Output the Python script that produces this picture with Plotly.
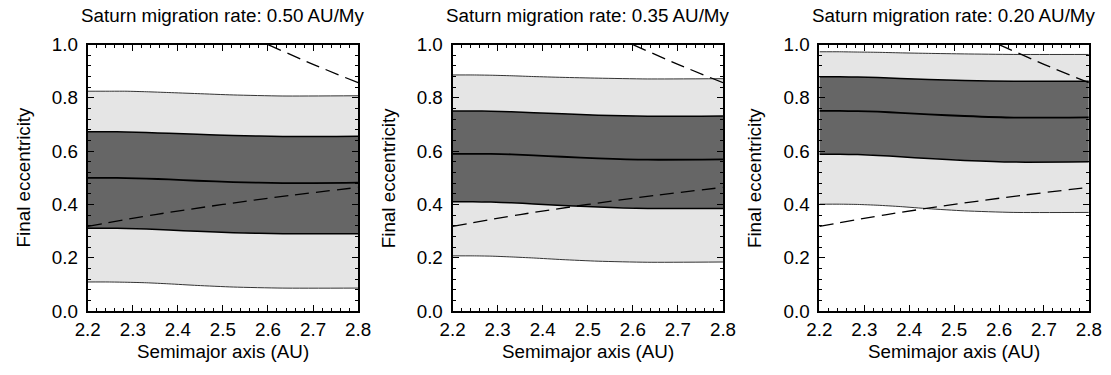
import plotly.graph_objects as go

# sample semimajor axes (AU)
a_samples = [2.2, 2.245, 2.285, 2.33, 2.38, 2.443, 2.523, 2.633, 2.8]

rates = ["0.50", "0.35", "0.20"]

# Panel 1: 0.50 AU/My
p1_outer_hi = [0.825, 0.825, 0.825, 0.823, 0.820, 0.816, 0.811, 0.807, 0.808]
p1_inner_hi = [0.673, 0.673, 0.672, 0.670, 0.667, 0.663, 0.659, 0.655, 0.656]
p1_median   = [0.500, 0.500, 0.499, 0.497, 0.494, 0.489, 0.484, 0.480, 0.482]
p1_inner_lo = [0.311, 0.311, 0.310, 0.308, 0.304, 0.299, 0.294, 0.290, 0.290]
p1_outer_lo = [0.109, 0.109, 0.108, 0.106, 0.102, 0.096, 0.090, 0.086, 0.086]

# Panel 2: 0.35 AU/My
p2_outer_hi = [0.886, 0.886, 0.885, 0.883, 0.880, 0.877, 0.874, 0.871, 0.872]
p2_inner_hi = [0.751, 0.751, 0.750, 0.748, 0.744, 0.740, 0.735, 0.731, 0.732]
p2_median   = [0.590, 0.590, 0.590, 0.588, 0.584, 0.579, 0.573, 0.568, 0.569]
p2_inner_lo = [0.410, 0.410, 0.409, 0.406, 0.402, 0.396, 0.390, 0.385, 0.385]
p2_outer_lo = [0.207, 0.207, 0.206, 0.203, 0.199, 0.193, 0.187, 0.183, 0.184]

# Panel 3: 0.20 AU/My
p3_outer_hi = [0.973, 0.973, 0.972, 0.971, 0.969, 0.967, 0.965, 0.963, 0.963]
p3_inner_hi = [0.879, 0.879, 0.878, 0.876, 0.873, 0.869, 0.865, 0.862, 0.862]
p3_median   = [0.751, 0.751, 0.750, 0.748, 0.744, 0.738, 0.732, 0.726, 0.727]
p3_inner_lo = [0.588, 0.588, 0.587, 0.584, 0.579, 0.572, 0.565, 0.559, 0.560]
p3_outer_lo = [0.401, 0.401, 0.400, 0.397, 0.392, 0.384, 0.376, 0.370, 0.370]

# dashed boundary curves
q_a = [2.2, 2.35, 2.5, 2.65, 2.8]
q_e = [0.318, 0.362, 0.400, 0.434, 0.464]
Q_a = [2.6, 2.7, 2.8]
Q_e = [1.000, 0.926, 0.857]

x_ticks = [2.2, 2.3, 2.4, 2.5, 2.6, 2.7, 2.8]
y_ticks = [0.0, 0.2, 0.4, 0.6, 0.8, 1.0]

panels = [
    (p1_outer_lo, p1_inner_lo, p1_median, p1_inner_hi, p1_outer_hi),
    (p2_outer_lo, p2_inner_lo, p2_median, p2_inner_hi, p2_outer_hi),
    (p3_outer_lo, p3_inner_lo, p3_median, p3_inner_hi, p3_outer_hi),
]

W, H = 1111, 375
OFF = 8                       # body margin of the page
SX, SY = W / 1131, H / 392    # page capture -> picture scale

x_px = [(83, 355), (450, 722), (819, 1090)]   # target picture pixels
y_top, y_bot = 42.7, 312.7


def fx(px):
    return (px / SX - OFF) / W


def fy(py):
    return 1 - (py / SY - OFF) / H


FONT = "Liberation Sans, Arial, sans-serif"
FS = 18.8

fig = go.Figure()
layout = dict(
    width=W, height=H, margin=dict(l=0, r=0, t=0, b=0),
    paper_bgcolor="white", plot_bgcolor="white", showlegend=False,
    font=dict(family=FONT, size=FS, color="black"),
)
annotations = []

for i, (olo, ilo, med, ihi, ohi) in enumerate(panels):
    n = "" if i == 0 else str(i + 1)
    xa, ya = "x" + n, "y" + n
    line_kw = dict(shape="spline", smoothing=0.6)
    fig.add_trace(go.Scatter(x=a_samples, y=olo, xaxis=xa, yaxis=ya, mode="lines",
                             line=dict(color="#333333", width=1, **line_kw)))
    fig.add_trace(go.Scatter(x=a_samples, y=ohi, xaxis=xa, yaxis=ya, mode="lines",
                             fill="tonexty", fillcolor="#e5e5e5",
                             line=dict(color="#333333", width=1, **line_kw)))
    fig.add_trace(go.Scatter(x=a_samples, y=ilo, xaxis=xa, yaxis=ya, mode="lines",
                             line=dict(color="black", width=1.5, **line_kw)))
    fig.add_trace(go.Scatter(x=a_samples, y=ihi, xaxis=xa, yaxis=ya, mode="lines",
                             fill="tonexty", fillcolor="#666666",
                             line=dict(color="black", width=1.5, **line_kw)))
    fig.add_trace(go.Scatter(x=a_samples, y=med, xaxis=xa, yaxis=ya, mode="lines",
                             line=dict(color="black", width=1.8, **line_kw)))
    fig.add_trace(go.Scatter(x=q_a, y=q_e, xaxis=xa, yaxis=ya, mode="lines",
                             line=dict(color="black", width=1.3, dash="14px,7px", shape="spline")))
    fig.add_trace(go.Scatter(x=Q_a, y=Q_e, xaxis=xa, yaxis=ya, mode="lines",
                             line=dict(color="black", width=1.3, dash="14px,7px", shape="spline")))

    x0, x1 = x_px[i]
    common = dict(showgrid=False, zeroline=False, showline=True, linecolor="black",
                  linewidth=2, mirror="allticks", ticks="inside", ticklen=6,
                  tickwidth=1.2, tickcolor="black",
                  tickfont=dict(family=FONT, size=FS, color="black"))
    layout["xaxis" + n] = dict(
        domain=[fx(x0), fx(x1)], range=[2.2, 2.8], anchor=ya,
        tickvals=x_ticks, ticktext=[f"{v:.1f}" for v in x_ticks],
        minor=dict(dtick=0.02, tick0=2.2, ticks="inside", ticklen=3, tickwidth=1, tickcolor="black"),
        **common)
    layout["yaxis" + n] = dict(
        domain=[fy(y_bot), fy(y_top)], range=[0, 1], anchor=xa,
        tickvals=y_ticks, ticktext=[f"{v:.1f}" for v in y_ticks],
        ticklabelstandoff=4,
        minor=dict(dtick=0.04, tick0=0, ticks="inside", ticklen=3, tickwidth=1, tickcolor="black"),
        **common)

    cx = fx((x0 + x1) / 2)
    annotations.append(dict(text=f"Saturn migration rate: {rates[i]} AU/My", x=cx, y=fy(13.0),
                            xref="paper", yref="paper", showarrow=False,
                            xanchor="center", yanchor="middle",
                            font=dict(family=FONT, size=FS, color="black")))
    annotations.append(dict(text="Semimajor axis (AU)", x=cx, y=fy(354),
                            xref="paper", yref="paper", showarrow=False,
                            xanchor="center", yanchor="middle",
                            font=dict(family=FONT, size=FS, color="black")))
    annotations.append(dict(text="Final eccentricity", x=fx(x0 - 64.5),
                            y=fy((y_top + y_bot) / 2),
                            xref="paper", yref="paper", showarrow=False, textangle=-90,
                            xanchor="center", yanchor="middle",
                            font=dict(family=FONT, size=FS, color="black")))

layout["annotations"] = annotations
fig.update_layout(**layout)
fig.write_html("out.html")
